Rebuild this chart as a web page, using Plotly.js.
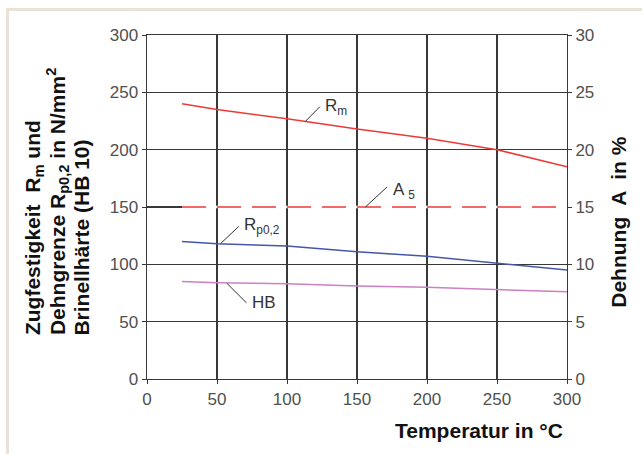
<!DOCTYPE html>
<html>
<head>
<meta charset="utf-8">
<script src="https://cdn.plot.ly/plotly-3.0.1.min.js"></script>
<style>
  html, body { margin: 0; padding: 0; background: #fff; }
  #wrap { position: relative; width: 642px; height: 454px; overflow: hidden; }
  #chart { position: absolute; left: 0; top: 0; width: 642px; height: 454px; }
  .frameTop { position: absolute; left: 6px; top: 8px; width: 640px; height: 3px; background: #ebe1d6; }
  .frameLeft { position: absolute; left: 6px; top: 8px; width: 3px; height: 450px; background: #ebe1d6; }
</style>
</head>
<body>
<div id="wrap">
  <div id="chart"></div>
  <div class="frameTop"></div>
  <div class="frameLeft"></div>
</div>
<script>
// Temperature in °C
const temperature = [25, 50, 100, 150, 200, 250, 300];
// Zugfestigkeit Rm in N/mm²
const rm = [240, 235, 227, 218, 210, 200, 185];
// Dehngrenze Rp0,2 in N/mm²
const rp02 = [120, 118, 116, 111, 107, 101, 95];
// Brinellhärte HB 10
const hb = [85, 84, 83, 81, 80, 78, 76];
// Dehnung A5 in %
const a5 = [15, 15, 15, 15, 15, 15, 15];

const xTicks = [0, 50, 100, 150, 200, 250, 300];
const yTicks = [0, 50, 100, 150, 200, 250, 300];
const y2Ticks = [0, 5, 10, 15, 20, 25, 30];

const tickFont = { family: 'Arial, "Liberation Sans", sans-serif', size: 17, color: '#505050' };
const boldFont = { family: 'Arial, "Liberation Sans", sans-serif', size: 21, color: '#111', weight: 'bold' };
const labFont = { family: 'Arial, "Liberation Sans", sans-serif', size: 17, color: '#333' };
const grid = '#383838';

const traces = [
  { x: temperature, y: a5, yaxis: 'y2', mode: 'lines', line: { color: '#ffffff', width: 2.5 }, hoverinfo: 'skip', showlegend: false },
  { x: temperature, y: a5, yaxis: 'y2', mode: 'lines', line: { color: '#ec3a3a', width: 1.6, dash: '24px,11px' }, name: 'A5' },
  { x: temperature, y: rm, mode: 'lines', line: { color: '#ec3a3a', width: 1.5 }, name: 'Rm' },
  { x: temperature, y: rp02, mode: 'lines', line: { color: '#4757a8', width: 1.5 }, name: 'Rp0,2' },
  { x: temperature, y: hb, mode: 'lines', line: { color: '#cc80c2', width: 1.5 }, name: 'HB' }
];

function leader(x0, y0, x1, y1) {
  return { type: 'line', xref: 'x', yref: 'y', x0: x0, y0: y0, x1: x1, y1: y1,
           line: { color: '#333', width: 1 } };
}
function px2x(px) { return (px - 147) / 420; }
function py2y(py) { return (379.5 - py) / 344.5; }

const layout = {
  width: 642, height: 454,
  margin: { l: 147, r: 75, t: 35, b: 75 },
  paper_bgcolor: '#ffffff', plot_bgcolor: '#ffffff',
  showlegend: false,
  xaxis: {
    range: [0, 300], tickvals: xTicks, ticktext: xTicks.map(String),
    showgrid: true, gridcolor: grid, gridwidth: 1.4, zeroline: false,
    showline: true, linecolor: grid, linewidth: 1.4, mirror: true,
    ticks: 'outside', ticklen: 4, tickcolor: grid, tickfont: tickFont
  },
  yaxis: {
    range: [0, 300], tickvals: yTicks, ticktext: yTicks.map(String),
    showgrid: true, gridcolor: grid, gridwidth: 1.4, zeroline: false,
    showline: true, linecolor: grid, linewidth: 1.4, mirror: true,
    ticks: 'outside', ticklen: 4, tickcolor: grid, tickfont: tickFont
  },
  yaxis2: {
    range: [0, 30], tickvals: y2Ticks, ticktext: y2Ticks.map(String),
    overlaying: 'y', side: 'right', showgrid: false, zeroline: false,
    showline: false, ticks: 'outside', ticklen: 4, tickcolor: grid, tickfont: tickFont
  },
  shapes: [
    leader(113, 224.5, 123.5, 237.5),
    leader(156, 150, 171.5, 167.5),
    leader(52.5, 118, 65.5, 133),
    leader(57, 83.5, 71, 66.5)
  ],
  annotations: [
    { x: 125.5, y: 237, xref: 'x', yref: 'y', text: 'R<sub>m</sub>', showarrow: false, xanchor: 'left', yanchor: 'middle', font: labFont },
    { x: 174, y: 164, xref: 'x', yref: 'y', text: 'A <sub>5</sub>', showarrow: false, xanchor: 'left', yanchor: 'middle', font: labFont },
    { x: 67.5, y: 133, xref: 'x', yref: 'y', text: 'R<sub>p0,2</sub>', showarrow: false, xanchor: 'left', yanchor: 'middle', font: labFont },
    { x: 73.5, y: 66.5, xref: 'x', yref: 'y', text: 'HB', showarrow: false, xanchor: 'left', yanchor: 'middle', font: labFont },
    { x: px2x(34), y: py2y(338), xref: 'paper', yref: 'paper',
      text: '<b>Zugfestigkeit  R<sub>m</sub> und</b>',
      textangle: -90, showarrow: false, xanchor: 'center', yanchor: 'bottom', font: boldFont },
    { x: px2x(57), y: py2y(338), xref: 'paper', yref: 'paper',
      text: '<b>Dehngrenze R<sub>p0,2</sub> in N/mm<sup>2</sup></b>',
      textangle: -90, showarrow: false, xanchor: 'center', yanchor: 'bottom', font: boldFont },
    { x: px2x(82), y: py2y(338), xref: 'paper', yref: 'paper',
      text: '<b>Brinellhärte (HB 10)</b>',
      textangle: -90, showarrow: false, xanchor: 'center', yanchor: 'bottom', font: boldFont },
    { x: px2x(619), y: py2y(223), xref: 'paper', yref: 'paper',
      text: '<b>Dehnung  A  in %</b>', textangle: -90, showarrow: false, xanchor: 'center', yanchor: 'middle', font: boldFont },
    { x: px2x(565), y: py2y(431), xref: 'paper', yref: 'paper',
      text: '<b>Temperatur in °C</b>', showarrow: false, xanchor: 'right', yanchor: 'middle', font: boldFont }
  ]
};

Plotly.newPlot('chart', traces, layout, { displayModeBar: false, staticPlot: true });
</script>
</body>
</html>
